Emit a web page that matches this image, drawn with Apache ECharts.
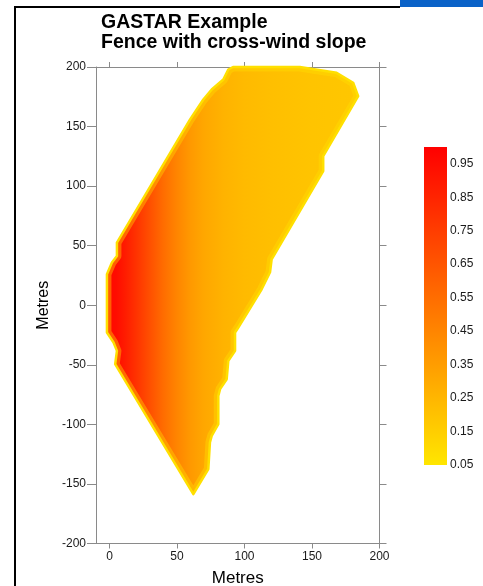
<!DOCTYPE html>
<html><head><meta charset="utf-8">
<script src="https://cdn.jsdelivr.net/npm/echarts@6/dist/echarts.min.js"></script>
<style>html,body{margin:0;padding:0;background:#fff}#c{width:483px;height:586px}</style>
</head><body><div id="c"></div>
<script>
// tick labels
const xTicks = [0, 50, 100, 150, 200];
const yTicks = [-200, -150, -100, -50, 0, 50, 100, 150, 200];
const cbTicks = [0.05, 0.15, 0.25, 0.35, 0.45, 0.55, 0.65, 0.75, 0.85, 0.95];
const cbMin = 0.05, cbMax = 1.0;
// outline of the contoured region (metres)
const shapeX = [91.5, 141, 168.2, 180.5, 184.2, 158.3, 158.3, 120.1, 118.9, 112.7, 95.4, 93, 93, 88, 86.8, 81.9, 80.6, 80.6, 75.7, 74.4, 73.2, 62.1, 4.2, 5.5, 3, -1.9, -1.9, 1.8, 5.5, 5.5, 59.7, 69.5, 75.7, 84.3, 88];
const shapeY = [200, 200, 195.1, 186.8, 175.5, 125.2, 112.6, 38.6, 27.7, 13.4, -18.7, -22.9, -38.3, -46.7, -62.1, -70.4, -76.1, -99.8, -109.6, -115.2, -137.6, -158.6, -49.5, -38.3, -31.3, -22.9, 26, 35.8, 41.3, 52.6, 156, 172.7, 181.1, 189.5, 197.9];
// concentration profile across the region (x in metres, value)
const profX = [-3, 5, 12, 20, 30, 40, 50, 60, 70, 85, 100, 120, 150, 185];
const profV = [0.97, 0.95, 0.88, 0.79, 0.67, 0.55, 0.45, 0.37, 0.31, 0.26, 0.23, 0.21, 0.19, 0.18];

function cmap(v) {
  const t = Math.max(0, Math.min(1, (v - 0.05) / 0.95));
  const g = Math.round(230 * (1 - t));
  return 'rgb(255,' + g + ',0)';
}
const FONT = "'Liberation Sans', Arial, sans-serif";
const AX = '#8a8a8a';
const chart = echarts.init(document.getElementById('c'), null, {renderer: 'canvas'});
chart.setOption({
  animation: false,
  backgroundColor: '#fff',
  title: {
    text: 'GASTAR Example\nFence with cross-wind slope',
    left: 101, top: 13, padding: 0,
    textStyle: {fontFamily: FONT, fontSize: 19.5, fontWeight: 'bold', color: '#000', lineHeight: 20}
  },
  graphic: [
    {type: 'rect', shape: {x: 14, y: 6, width: 2, height: 580}, style: {fill: '#000'}},
    {type: 'rect', shape: {x: 14, y: 6, width: 386, height: 2}, style: {fill: '#000'}},
    {type: 'rect', shape: {x: 400, y: 0, width: 83, height: 7}, style: {fill: '#0a62c8'}}
  ],
  grid: [
    {left: 96, right: 103.5, top: 67, bottom: 42.5, outerBoundsMode: 'none', containLabel: false},
    {left: 424, top: 147, width: 23, height: 318, outerBoundsMode: 'none', containLabel: false}
  ],
  xAxis: [
    {gridIndex: 0, type: 'value', position: 'bottom', min: -10, max: 200,
     axisLine: {show: true, onZero: false, lineStyle: {color: AX, width: 1}},
     axisTick: {show: true, length: 5, lineStyle: {color: AX}, customValues: xTicks},
     axisLabel: {customValues: xTicks, margin: 7, fontFamily: FONT, fontSize: 12, color: '#1a1a1a'},
     splitLine: {show: false},
     name: 'Metres', nameLocation: 'middle', nameGap: 26, nameMoveOverlap: false,
     nameTextStyle: {fontFamily: FONT, fontSize: 17, color: '#000'}},
    {gridIndex: 0, type: 'value', position: 'top', min: -10, max: 200,
     axisLine: {show: true, onZero: false, lineStyle: {color: AX, width: 1}},
     axisTick: {show: true, length: 5, lineStyle: {color: AX}, customValues: xTicks},
     axisLabel: {show: false}, splitLine: {show: false}},
    {gridIndex: 1, type: 'value', min: 0, max: 1, show: false}
  ],
  yAxis: [
    {gridIndex: 0, type: 'value', position: 'left', min: -200, max: 200, interval: 50,
     axisLine: {show: true, onZero: false, lineStyle: {color: AX, width: 1}},
     axisTick: {show: true, length: 9, lineStyle: {color: AX}, customValues: yTicks},
     axisLabel: {customValues: yTicks, margin: 10, fontFamily: FONT, fontSize: 12, color: '#1a1a1a'},
     splitLine: {show: false},
     name: 'Metres', nameLocation: 'middle', nameGap: 44, nameMoveOverlap: false,
     nameTextStyle: {fontFamily: FONT, fontSize: 16, color: '#000'}},
    {gridIndex: 0, type: 'value', position: 'right', min: -200, max: 200, interval: 50,
     axisLine: {show: true, onZero: false, lineStyle: {color: AX, width: 1}},
     axisTick: {show: true, length: 7, lineStyle: {color: AX}, customValues: yTicks},
     axisLabel: {show: false}, splitLine: {show: false}},
    {gridIndex: 1, type: 'value', position: 'right', min: cbMin, max: cbMax,
     axisLine: {show: false}, axisTick: {show: false}, splitLine: {show: false},
     axisLabel: {customValues: cbTicks, margin: 3, fontFamily: FONT, fontSize: 12, color: '#1a1a1a',
       formatter: v => v.toFixed(2)}}
  ],
  series: [
    {type: 'custom', xAxisIndex: 0, yAxisIndex: 0, data: [0], silent: true,
     renderItem: function (params, api) {
       if (params.dataIndex !== 0) return;
       const pts = shapeX.map((x, i) => api.coord([x, shapeY[i]]));
       const a = api.coord([profX[0], 0]), b = api.coord([profX[profX.length - 1], 0]);
       const stops = profX.map((x, i) => ({offset: (api.coord([x, 0])[0] - a[0]) / (b[0] - a[0]), color: cmap(profV[i])}));
       return {type: 'group', children: [
         {type: 'polygon', shape: {points: pts},
          style: {fill: {type: 'linear', x: a[0], y: 0, x2: b[0], y2: 0, global: true, colorStops: stops},
                  stroke: '#FFE000', lineWidth: 2.5, lineJoin: 'round'}},
         {type: 'polygon', shape: {points: pts},
          style: {fill: 'none', stroke: 'rgba(255,222,0,0.4)', lineWidth: 9, lineJoin: 'round'},
          clipPath: {type: 'polygon', shape: {points: pts}}}
       ]};
     }},
    {type: 'custom', xAxisIndex: 2, yAxisIndex: 2, data: [0], silent: true,
     renderItem: function (params, api) {
       const p0 = api.coord([0, cbMax]), p1 = api.coord([1, cbMin]);
       const vals = [cbMax].concat(cbTicks.slice().reverse(), [cbMin]);
       const stops = vals.map(v => ({offset: (cbMax - v) / (cbMax - cbMin), color: cmap(v)}));
       return {type: 'rect', shape: {x: p0[0], y: p0[1], width: p1[0] - p0[0], height: p1[1] - p0[1]},
         style: {fill: {type: 'linear', x: 0, y: 0, x2: 0, y2: 1, colorStops: stops}}};
     }}
  ]
});
</script></body></html>
